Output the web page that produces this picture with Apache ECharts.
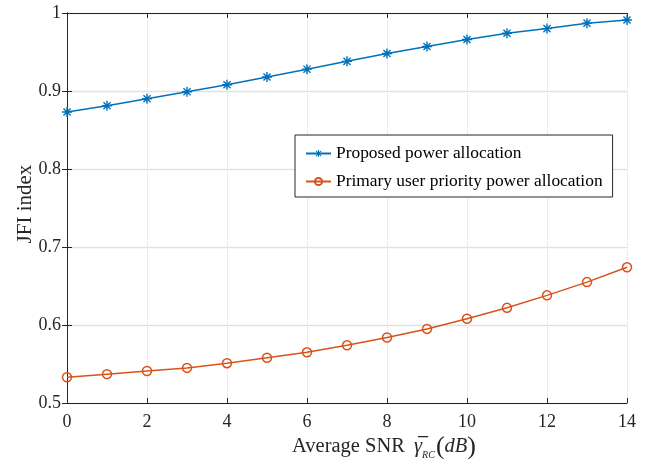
<!DOCTYPE html>
<html>

<head>
  <title>JFI index</title>
  <style>
    html, body { margin: 0; padding: 0; background: #fff; }
    #main { width: 651px; height: 459px; }
  </style>
</head>

<body>
  <div id="main"></div>
</body>
<script src="https://cdn.jsdelivr.net/npm/echarts@6/dist/echarts.min.js"></script>
<script>
  // average SNR (dB)
  const snr = [0, 1, 2, 3, 4, 5, 6, 7, 8, 9, 10, 11, 12, 13, 14]
  // JFI values
  const proposed = [0.873, 0.881, 0.890, 0.899, 0.908, 0.918, 0.928, 0.938, 0.948, 0.957, 0.966, 0.974, 0.980, 0.987, 0.991]
  const primary = [0.533, 0.537, 0.541, 0.545, 0.551, 0.558, 0.565, 0.574, 0.584, 0.595, 0.608, 0.622, 0.638, 0.655, 0.674]
  const xTicks = [0, 2, 4, 6, 8, 10, 12, 14]
  const yTicks = [0.5, 0.6, 0.7, 0.8, 0.9, 1]

  const blue = '#0072BD'
  const orange = '#D95319'
  const axisColor = '#262626'
  const font = 'Liberation Serif, Times New Roman, serif'

  // asterisk marker: four thin bars
  const asterisk = 'path://M-10,-1.4L10,-1.4L10,1.4L-10,1.4Z' +
    'M-1.4,-10L1.4,-10L1.4,10L-1.4,10Z' +
    'M-6.09,-8.07L8.07,6.09L6.09,8.07L-8.07,-6.09Z' +
    'M-8.07,6.09L6.09,-8.07L8.07,-6.09L-6.09,8.07Z'

  let chart = echarts.init(document.getElementById('main'))

  let tickCommon = {
    show: true,
    inside: true,
    length: 5,
    lineStyle: { color: axisColor, width: 1 },
  }

  let option = {
    animation: false,
    backgroundColor: '#fff',
    textStyle: { fontFamily: font },
    grid: {
      left: 67,
      right: 24,
      top: 13,
      bottom: 56,
      containLabel: false,
      outerBoundsMode: 'none',
    },
    legend: {
      orient: 'vertical',
      left: 295,
      top: 135,
      padding: [10, 10, 7, 10],
      itemGap: 11,
      itemWidth: 25,
      itemHeight: 9,
      borderColor: axisColor,
      borderWidth: 1,
      backgroundColor: '#fff',
      textStyle: { fontFamily: font, fontSize: 17.4, color: '#000' },
      data: ['Proposed power allocation', 'Primary user priority power allocation'],
    },
    xAxis: [
      {
        type: 'value',
        min: 0,
        max: 14,
        interval: 2,
        name: '{a|Average SNR }{g|γ\u0305}{s|RC}{p|(}{i|dB}{p|)}',
        nameLocation: 'middle',
        nameGap: 31,
        nameMoveOverlap: false,
        nameTextStyle: {
          padding: [0, 0, 0, 74],
          rich: {
            a: { fontFamily: font, fontSize: 20.5, color: '#262626' },
            g: { fontFamily: font, fontSize: 20.5, fontStyle: 'italic', color: '#262626', padding: [0, 0, 0, 4] },
            s: { fontFamily: font, fontSize: 10, fontStyle: 'italic', color: '#262626', verticalAlign: 'bottom', padding: [8, 1, 0, 0] },
            p: { fontFamily: font, fontSize: 26, color: '#262626' },
            i: { fontFamily: font, fontSize: 20.5, fontStyle: 'italic', color: '#262626' },
          },
        },
        axisLine: { show: true, lineStyle: { color: axisColor, width: 1 } },
        axisTick: tickCommon,
        axisLabel: { fontFamily: font, fontSize: 18, color: axisColor, margin: 10 },
        splitLine: { show: true, lineStyle: { color: '#dcdcdc', width: 1, type: 'dotted' } },
      },
      {
        type: 'value',
        position: 'top',
        min: 0,
        max: 14,
        interval: 2,
        axisLine: { show: true, lineStyle: { color: axisColor, width: 1 } },
        axisTick: tickCommon,
        axisLabel: { show: false },
        splitLine: { show: false },
      },
    ],
    yAxis: [
      {
        type: 'value',
        min: 0.5,
        max: 1,
        interval: 0.1,
        name: 'JFI index',
        nameLocation: 'middle',
        nameGap: 31,
        nameMoveOverlap: false,
        nameTextStyle: { fontFamily: font, fontSize: 21, color: '#262626', padding: [0, 0, 0, 8] },
        axisLine: { show: true, lineStyle: { color: axisColor, width: 1 } },
        axisTick: tickCommon,
        axisLabel: {
          fontFamily: font,
          fontSize: 18,
          color: axisColor,
          margin: 6,
          formatter: (v) => {
            let t = yTicks.find((y) => Math.abs(y - v) < 1e-6)
            return t === undefined ? '' : String(t)
          },
        },
        splitLine: { show: true, lineStyle: { color: '#e2e2e2', width: 1.3 } },
      },
      {
        type: 'value',
        position: 'right',
        min: 0.5,
        max: 1,
        interval: 0.1,
        axisLine: { show: true, lineStyle: { color: axisColor, width: 1 } },
        axisTick: tickCommon,
        axisLabel: { show: false },
        splitLine: { show: false },
      },
    ],
    series: [
      {
        name: 'Proposed power allocation',
        type: 'line',
        xAxisIndex: 0,
        yAxisIndex: 0,
        symbol: asterisk,
        symbolSize: 10,
        showAllSymbol: true,
        lineStyle: { color: blue, width: 1.5 },
        itemStyle: { color: blue },
        data: snr.map((x, i) => [x, proposed[i]]),
      },
      {
        name: 'Primary user priority power allocation',
        type: 'line',
        xAxisIndex: 0,
        yAxisIndex: 0,
        symbol: 'circle',
        symbolSize: 9,
        showAllSymbol: true,
        lineStyle: { color: orange, width: 1.5 },
        itemStyle: { color: 'rgba(255,255,255,0)', borderColor: orange, borderWidth: 1.5 },
        data: snr.map((x, i) => [x, primary[i]]),
      },
    ],
  }

  chart.setOption(option)
</script>

</html>
